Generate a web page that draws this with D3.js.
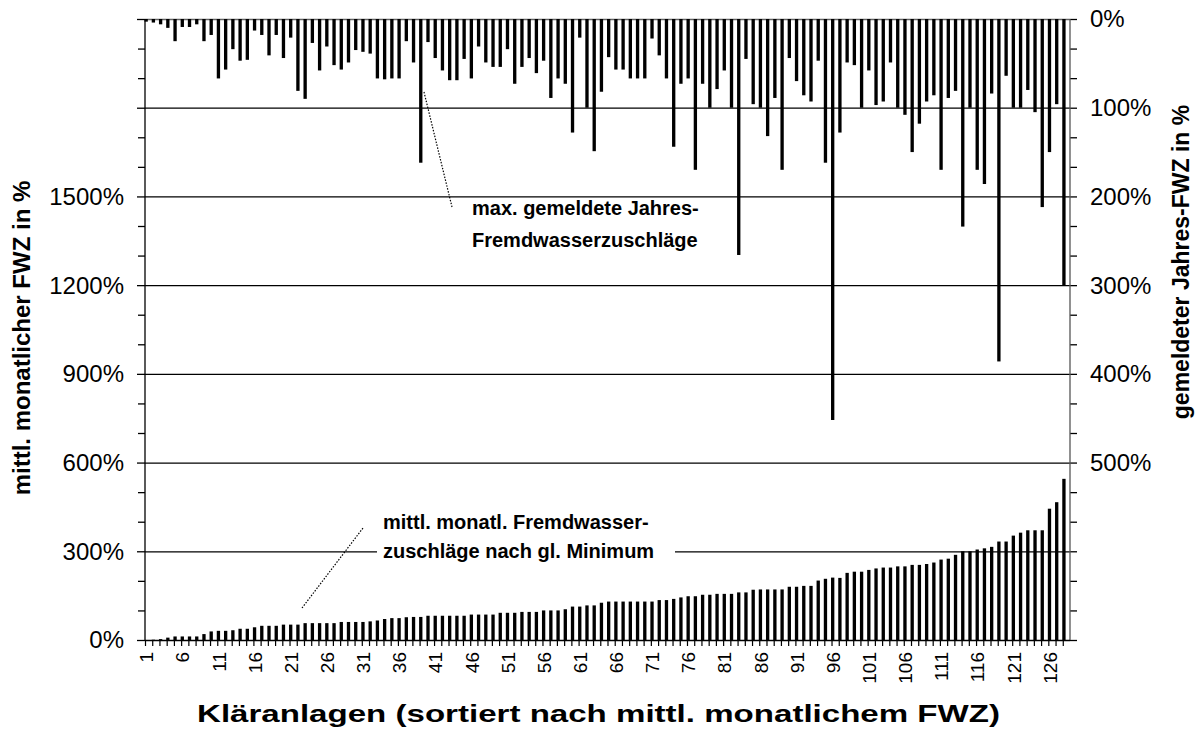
<!DOCTYPE html>
<html>
<head>
<meta charset="utf-8">
<script src="https://cdn.jsdelivr.net/npm/d3@7"></script>
<style>
  body { margin: 0; background: #fff; }
  svg { display: block; }
  text { font-family: "Liberation Sans", Arial, sans-serif; fill: #000; }
</style>
</head>
<body>
<svg id="chart" width="1195" height="729"></svg>
<script>
// Kläranlagen 1..128, sorted by mean monthly extraneous-water surcharge
const plants = d3.range(1, 129);

// mittl. monatl. Fremdwasserzuschläge (left axis, %)
const monthlyFWZ = [
  0, 1, 3, 8, 12, 12, 12, 12, 20, 29,
  31, 31, 33, 38, 38, 43, 48, 48, 48, 52,
  52, 52, 57, 57, 57, 57, 57, 61, 61, 61,
  61, 63, 66, 71, 74, 74, 77, 78, 78, 82,
  82, 82, 82, 82, 82, 86, 86, 86, 86, 92,
  92, 92, 95, 95, 95, 100, 100, 100, 104, 113,
  113, 117, 117, 126, 130, 130, 130, 130, 130, 130,
  130, 135, 135, 139, 144, 148, 148, 153, 153, 156,
  156, 156, 161, 161, 170, 171, 171, 171, 171, 180,
  180, 183, 183, 201, 207, 211, 210, 227, 231, 231,
  237, 242, 245, 245, 249, 249, 254, 254, 257, 262,
  272, 275, 288, 300, 300, 306, 310, 315, 333, 333,
  353, 363, 371, 371, 371, 444, 466, 545
];

// max. gemeldete Jahres-Fremdwasserzuschläge (right axis, %)
const annualFWZ = [
  3, 4, 6, 10, 25, 9, 9, 6, 25, 18,
  67, 57, 34, 47, 46, 13, 18, 41, 18, 44,
  21, 81, 90, 27, 58, 31, 52, 57, 49, 35,
  37, 39, 67, 68, 67, 67, 25, 49, 162, 26,
  44, 58, 69, 69, 45, 67, 31, 49, 54, 54,
  34, 73, 54, 44, 61, 47, 89, 67, 73, 128,
  21, 100, 149, 82, 43, 57, 57, 67, 67, 67,
  22, 41, 67, 144, 73, 67, 170, 73, 100, 79,
  58, 100, 266, 45, 96, 100, 132, 89, 170, 44,
  70, 86, 93, 47, 162, 452, 128, 49, 52, 100,
  58, 97, 93, 49, 100, 108, 150, 118, 93, 86,
  170, 89, 81, 234, 100, 170, 186, 84, 386, 64,
  100, 100, 80, 105, 212, 150, 96, 300
];

const leftTicks = [0, 300, 600, 900, 1200, 1500, 1800, 2100];
const leftTickLabels = ["0%", "300%", "600%", "900%", "1200%", "1500%", "", ""];
const leftMinorStep = 100;
const rightTicks = [0, 100, 200, 300, 400, 500, 600, 700];
const rightTickLabels = ["0%", "100%", "200%", "300%", "400%", "500%", "", ""];
const xTickLabels = [1, 6, 11, 16, 21, 26, 31, 36, 41, 46, 51, 56, 61, 66, 71, 76,
                     81, 86, 91, 96, 101, 106, 111, 116, 121, 126];

const svg = d3.select("#chart");
const plot = { left: 145, right: 1070, top: 19, bottom: 640 };

const x = d3.scaleBand().domain(plants).range([plot.left, plot.right]).padding(0);
const bw = x.bandwidth();
const yLeft = d3.scaleLinear().domain([0, 2100]).range([plot.bottom, plot.top]);
const yRight = d3.scaleLinear().domain([0, 700]).range([plot.top, plot.bottom]);

const barOffset = -0.07 * bw;
const barWidth = 0.46 * bw;

// horizontal grid lines
svg.append("g").selectAll("line")
  .data(leftTicks.filter(d => d > 0))
  .join("line")
  .attr("x1", plot.left).attr("x2", plot.right)
  .attr("y1", d => yLeft(d) + 0.5).attr("y2", d => yLeft(d) + 0.5)
  .attr("stroke", d => d === 2100 ? "#666" : "#000")
  .attr("stroke-width", 1.3);

// hanging bars: yearly reported surcharge, right axis reversed
svg.append("g").selectAll("rect")
  .data(plants)
  .join("rect")
  .attr("x", d => x(d) + barOffset)
  .attr("width", barWidth)
  .attr("y", yRight(0))
  .attr("height", d => yRight(annualFWZ[d - 1]) - yRight(0))
  .attr("fill", "#000");

// standing bars: mean monthly surcharge, left axis
svg.append("g").selectAll("rect")
  .data(plants)
  .join("rect")
  .attr("x", d => x(d) + barOffset)
  .attr("width", barWidth)
  .attr("y", d => yLeft(monthlyFWZ[d - 1]))
  .attr("height", d => yLeft(0) - yLeft(monthlyFWZ[d - 1]))
  .attr("fill", "#000");

// left axis
const leftMinor = d3.range(0, 2101, leftMinorStep);
const gL = svg.append("g").attr("transform", `translate(${plot.left},0)`);
gL.call(d3.axisLeft(yLeft).tickValues(leftMinor).tickSize(7).tickFormat(""));
gL.call(g => g.selectAll(".tick").filter(d => leftTicks.includes(d)).select("line").attr("x2", -8));
gL.selectAll(".domain").remove();
gL.append("line").attr("y1", plot.top).attr("y2", plot.bottom).attr("stroke", "#000").attr("stroke-width", 1.3);
gL.selectAll(".tick line").attr("stroke", "#000").attr("stroke-width", 1.3);
gL.selectAll("text.lab").data(leftTicks).join("text").attr("class", "lab")
  .attr("x", -21).attr("y", d => yLeft(d)).attr("dy", "0.35em")
  .attr("text-anchor", "end").style("font-size", "24px")
  .text((d, i) => leftTickLabels[i]);

// right axis (minor ticks line up with the left axis minor ticks)
const gR = svg.append("g").attr("transform", `translate(${plot.right},0)`);
gR.call(d3.axisRight(yRight).tickValues(leftMinor.map(v => v / 3)).tickSize(7).tickFormat(""));
gR.selectAll(".domain").remove();
gR.append("line").attr("y1", plot.top).attr("y2", plot.bottom).attr("stroke", "#555").attr("stroke-width", 1.3);
gR.selectAll(".tick line").attr("stroke", "#000").attr("stroke-width", 1.3);
gR.selectAll("text.lab").data(rightTicks).join("text").attr("class", "lab")
  .attr("x", 20).attr("y", d => yRight(d)).attr("dy", "0.35em")
  .attr("text-anchor", "start").style("font-size", "24px")
  .text((d, i) => rightTickLabels[i]);

// bottom axis: a tick at every category boundary
const gB = svg.append("g");
gB.append("line").attr("x1", plot.left).attr("x2", plot.right)
  .attr("y1", plot.bottom + 0.5).attr("y2", plot.bottom + 0.5)
  .attr("stroke", "#000").attr("stroke-width", 1.3);
gB.selectAll("line.tk").data(plants).join("line").attr("class", "tk")
  .attr("x1", d => x(d) + 0.5).attr("x2", d => x(d) + 0.5)
  .attr("y1", plot.bottom).attr("y2", plot.bottom + 6)
  .attr("stroke", "#000").attr("stroke-width", 1.2);
gB.selectAll("text").data(xTickLabels).join("text")
  .attr("transform", d => `translate(${x(d) + barOffset + barWidth / 2 + 0.5},652) rotate(-90)`)
  .attr("dy", "0.35em")
  .attr("text-anchor", "end").style("font-size", "19px")
  .text(d => d);

// axis titles
svg.append("text")
  .attr("transform", "translate(22,338) rotate(-90)")
  .attr("dy", "0.35em").attr("text-anchor", "middle")
  .style("font-size", "24px").style("font-weight", "bold")
  .text("mittl. monatlicher FWZ in %");
svg.append("text")
  .attr("transform", "translate(1181,262) rotate(-90)")
  .attr("dy", "0.35em").attr("text-anchor", "middle")
  .style("font-size", "23px").style("font-weight", "bold")
  .text("gemeldeter Jahres-FWZ in %");
svg.append("text")
  .attr("x", 197).attr("y", 722)
  .attr("textLength", 803).attr("lengthAdjust", "spacingAndGlyphs")
  .style("font-size", "24px").style("font-weight", "bold")
  .text("Kläranlagen (sortiert nach mittl. monatlichem FWZ)");

// annotations with dotted leader lines
svg.append("line")
  .attr("x1", 424).attr("y1", 92).attr("x2", 452).attr("y2", 207)
  .attr("stroke", "#000").attr("stroke-width", 1.2).attr("stroke-dasharray", "1.5,1.5");
svg.append("text").attr("x", 472).attr("y", 215)
  .style("font-size", "20px").style("font-weight", "bold")
  .text("max. gemeldete Jahres-");
svg.append("text").attr("x", 472).attr("y", 247)
  .style("font-size", "20px").style("font-weight", "bold")
  .text("Fremdwasserzuschläge");

svg.append("rect").attr("x", 377).attr("y", 540).attr("width", 298).attr("height", 22).attr("fill", "#fff");
svg.append("line")
  .attr("x1", 302).attr("y1", 608).attr("x2", 363).attr("y2", 528)
  .attr("stroke", "#000").attr("stroke-width", 1.2).attr("stroke-dasharray", "1.5,1.5");
svg.append("text").attr("x", 383).attr("y", 529)
  .style("font-size", "20px").style("font-weight", "bold")
  .text("mittl. monatl. Fremdwasser-");
svg.append("text").attr("x", 383).attr("y", 558)
  .style("font-size", "20px").style("font-weight", "bold")
  .text("zuschläge nach gl. Minimum");
</script>
</body>
</html>
